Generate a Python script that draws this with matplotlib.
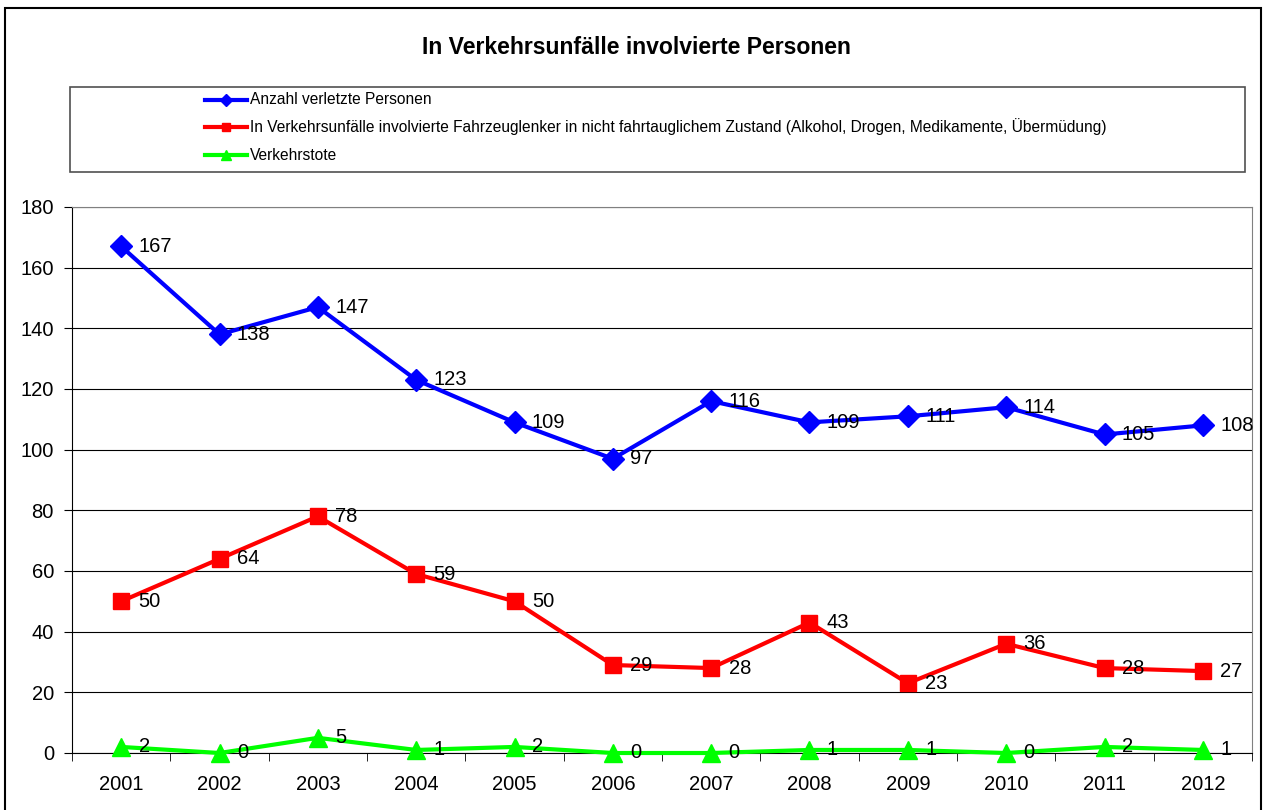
import matplotlib
matplotlib.use("Agg")
import matplotlib.pyplot as plt
from matplotlib.patches import Rectangle
from matplotlib.lines import Line2D

years = ["2001", "2002", "2003", "2004", "2005", "2006", "2007", "2008", "2009", "2010", "2011", "2012"]
verletzte = [167, 138, 147, 123, 109, 97, 116, 109, 111, 114, 105, 108]
lenker = [50, 64, 78, 59, 50, 29, 28, 43, 23, 36, 28, 27]
tote = [2, 0, 5, 1, 2, 0, 0, 1, 1, 0, 2, 1]
names = ["Anzahl verletzte Personen",
         "In Verkehrsunfälle involvierte Fahrzeuglenker in nicht fahrtauglichem Zustand (Alkohol, Drogen, Medikamente, Übermüdung)",
         "Verkehrstote"]
title = "In Verkehrsunfälle involvierte Personen"

plt.rcParams['font.family'] = ['Liberation Sans', 'DejaVu Sans']

W, H = 1266, 810
fig = plt.figure(figsize=(W / 100, H / 100), dpi=100)
fig.patch.set_facecolor("white")

def fx(px):
    return px / W

def fy(py):
    return 1 - py / H

# outer border (bottom edge lies outside the canvas)
fig.add_artist(Rectangle((fx(5), fy(815)), fx(1261) - fx(5), fy(8) - fy(815),
                         transform=fig.transFigure, fill=False, edgecolor="black", lw=1.5))

left, right, top, bottom = 72, 1252, 207, 753
ax = fig.add_axes([fx(left), fy(bottom), fx(right) - fx(left), fy(top) - fy(bottom)])

x = list(range(len(years)))
series = [
    (verletzte, "#0000FF", "D", 11.5),
    (lenker, "#FF0000", "s", 12),
    (tote, "#00FF00", "^", 13),
]
for vals, col, mk, ms in series:
    ax.plot(x, vals, color=col, lw=3, marker=mk, markersize=ms, markeredgecolor=col,
            markerfacecolor=col, zorder=3, clip_on=False)
    for xi, v in zip(x, vals):
        ax.annotate(str(v), (xi, v), xytext=(12.5, 0), textcoords="offset points",
                    ha="left", va="center", fontsize=14.5, color="black", zorder=4)

ax.set_xlim(-0.5, len(years) - 0.5)
ax.set_ylim(0, 180)
ax.set_yticks(range(0, 181, 20))
ax.set_yticklabels([str(v) for v in range(0, 181, 20)], fontsize=14.5)
ax.set_xticks(x)
ax.set_xticklabels(years, fontsize=14.5)
ax.set_xticks([i - 0.5 for i in range(len(years) + 1)], minor=True)
ax.tick_params(axis="x", which="major", length=0, pad=15.5)
ax.tick_params(axis="x", which="minor", length=6, direction="out", color="black")
ax.tick_params(axis="y", length=6, direction="out", color="black", pad=7)
ax.grid(axis="y", color="black", lw=0.8, zorder=0)
ax.set_axisbelow(True)
for s in ["top", "right"]:
    ax.spines[s].set_color("#808080")
for s in ["left", "bottom"]:
    ax.spines[s].set_color("black")

fig.text(fx(636), fy(47), title, ha="center", va="center", fontsize=16.6, fontweight="bold")

# legend box
fig.add_artist(Rectangle((fx(70), fy(172)), fx(1245) - fx(70), fy(87) - fy(172),
                         transform=fig.transFigure, fill=False, edgecolor="#505050", lw=1.2))
leg_y = [100, 127, 155]
for (vals, col, mk, ms), name, ly in zip(series, names, leg_y):
    fig.add_artist(Line2D([fx(205), fx(247)], [fy(ly), fy(ly)], transform=fig.transFigure,
                          color=col, lw=3))
    fig.add_artist(Line2D([fx(226)], [fy(ly)], transform=fig.transFigure, color=col,
                          marker=mk, markersize=6 if mk != "^" else 7, markeredgecolor=col,
                          markerfacecolor=col, lw=0))
    fig.text(fx(250), fy(ly), name, ha="left", va="center", fontsize=11.2)

fig.savefig("out.png", dpi=100)
